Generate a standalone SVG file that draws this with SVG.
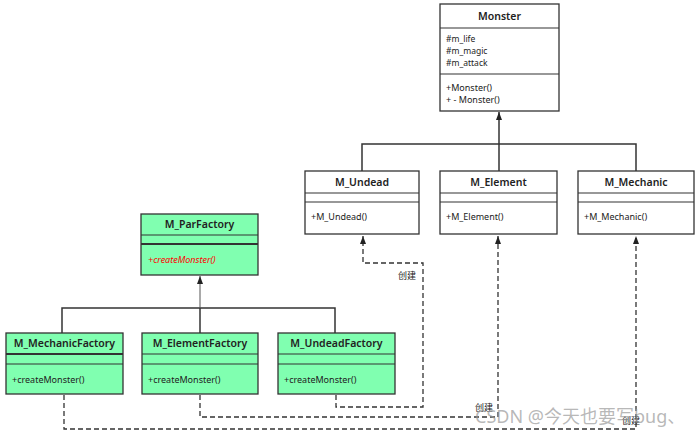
<svg xmlns="http://www.w3.org/2000/svg" width="700" height="437" viewBox="0 0 700 437">
<defs>
<style>
.box{fill:#ffffff;stroke:#333333;stroke-width:1.3}
.gbox{fill:#80ffb0;stroke:#333333;stroke-width:1.3}
.sep{stroke:#333333;stroke-width:1.2}
.title{font-family:"Noto Sans","Open Sans",sans-serif;font-size:10.5px;font-weight:600;fill:#222222;text-anchor:middle}
.mem{font-family:"Noto Sans","Open Sans",sans-serif;font-size:9px;fill:#222222}
.att{font-family:"Noto Sans","Open Sans",sans-serif;font-size:8.5px;fill:#222222}
.red{font-family:"Noto Sans","Open Sans",sans-serif;font-size:9px;fill:#ff0000;font-style:italic}
.line{fill:none;stroke:#333333;stroke-width:1.5}
.dash{fill:none;stroke:#333333;stroke-width:1.3;stroke-dasharray:5 3}
.lbl{font-family:"Noto Sans CJK SC",sans-serif;font-size:9px;fill:#222222;text-anchor:middle}
.wm{font-family:"Noto Sans","Noto Sans CJK SC",sans-serif;font-size:18px;fill:#999999;fill-opacity:0.7}
</style>
<marker id="arr" markerWidth="8" markerHeight="8" viewBox="0 0 8 8" refX="8" refY="4" orient="auto" markerUnits="userSpaceOnUse">
<path d="M0,1 L8,4 L0,7 Z" fill="#222222"/>
</marker>
</defs>

<g id="connectors">
<path class="line" d="M362,171 V144 H636 V171"/>
<path class="line" d="M499,144 V171"/>
<path class="line" d="M499,144 V112" marker-end="url(#arr)"/>
<path class="line" d="M62,333 V308 H335 V333"/>
<path class="line" d="M200,308 V333"/>
<path class="line" d="M200,308 V276" marker-end="url(#arr)" style="stroke:#555555;stroke-width:1"/>
<path class="dash" d="M336,395 V407 H423 V263 H363 V236" marker-end="url(#arr)"/>
<path class="dash" d="M200,395 V417 H498 V236" marker-end="url(#arr)"/>
<path class="dash" d="M64,395 V429 H636 V236" marker-end="url(#arr)"/>
<text class="lbl" x="407" y="279">创建</text>
<text class="lbl" x="484" y="411">创建</text>
<text class="lbl" x="631" y="424">创建</text>
</g>

<g id="Monster">
<rect class="box" x="440" y="4" width="119" height="107"/>
<line class="sep" x1="440" y1="28" x2="559" y2="28"/>
<line class="sep" x1="440" y1="74" x2="559" y2="74"/>
<text class="title" x="499.5" y="20">Monster</text>
<text class="att" x="446" y="42">#m_life</text>
<text class="att" x="446" y="54">#m_magic</text>
<text class="att" x="446" y="66">#m_attack</text>
<text class="mem" x="446" y="91">+Monster()</text>
<text class="mem" x="446" y="103">+ - Monster()</text>
</g>

<g id="M_Undead">
<rect class="box" x="305" y="171" width="114" height="63"/>
<line class="sep" x1="305" y1="193" x2="419" y2="193"/>
<line class="sep" x1="305" y1="202" x2="419" y2="202"/>
<text class="title" x="362" y="186">M_Undead</text>
<text class="mem" x="311" y="220">+M_Undead()</text>
</g>

<g id="M_Element">
<rect class="box" x="440" y="171" width="117" height="63"/>
<line class="sep" x1="440" y1="193" x2="557" y2="193"/>
<line class="sep" x1="440" y1="202" x2="557" y2="202"/>
<text class="title" x="498.5" y="186">M_Element</text>
<text class="mem" x="446" y="220">+M_Element()</text>
</g>

<g id="M_Mechanic">
<rect class="box" x="578" y="171" width="116" height="63"/>
<line class="sep" x1="578" y1="193" x2="694" y2="193"/>
<line class="sep" x1="578" y1="202" x2="694" y2="202"/>
<text class="title" x="636" y="186">M_Mechanic</text>
<text class="mem" x="584" y="220">+M_Mechanic()</text>
</g>

<g id="M_ParFactory">
<rect class="gbox" x="141" y="214" width="117" height="61"/>
<line class="sep" x1="141" y1="235" x2="258" y2="235"/>
<line class="sep" x1="141" y1="244" x2="258" y2="244" style="stroke-width:2"/>
<text class="title" x="199.5" y="228">M_ParFactory</text>
<text class="red" x="148" y="263">+createMonster()</text>
</g>

<g id="M_MechanicFactory">
<rect class="gbox" x="6" y="333" width="117" height="61"/>
<line class="sep" x1="6" y1="354" x2="123" y2="354" style="stroke-width:2"/>
<line class="sep" x1="6" y1="364" x2="123" y2="364"/>
<text class="title" x="64.5" y="347">M_MechanicFactory</text>
<text class="mem" x="12" y="383">+createMonster()</text>
</g>

<g id="M_ElementFactory">
<rect class="gbox" x="142" y="333" width="116" height="61"/>
<line class="sep" x1="142" y1="354" x2="258" y2="354"/>
<line class="sep" x1="142" y1="364" x2="258" y2="364"/>
<text class="title" x="200" y="347">M_ElementFactory</text>
<text class="mem" x="148" y="383">+createMonster()</text>
</g>

<g id="M_UndeadFactory">
<rect class="gbox" x="278" y="333" width="117" height="61"/>
<line class="sep" x1="278" y1="354" x2="395" y2="354"/>
<line class="sep" x1="278" y1="364" x2="395" y2="364"/>
<text class="title" x="336.5" y="347">M_UndeadFactory</text>
<text class="mem" x="284" y="383">+createMonster()</text>
</g>

<text class="wm" x="475" y="423">CSDN @今天也要写bug、</text>
</svg>
